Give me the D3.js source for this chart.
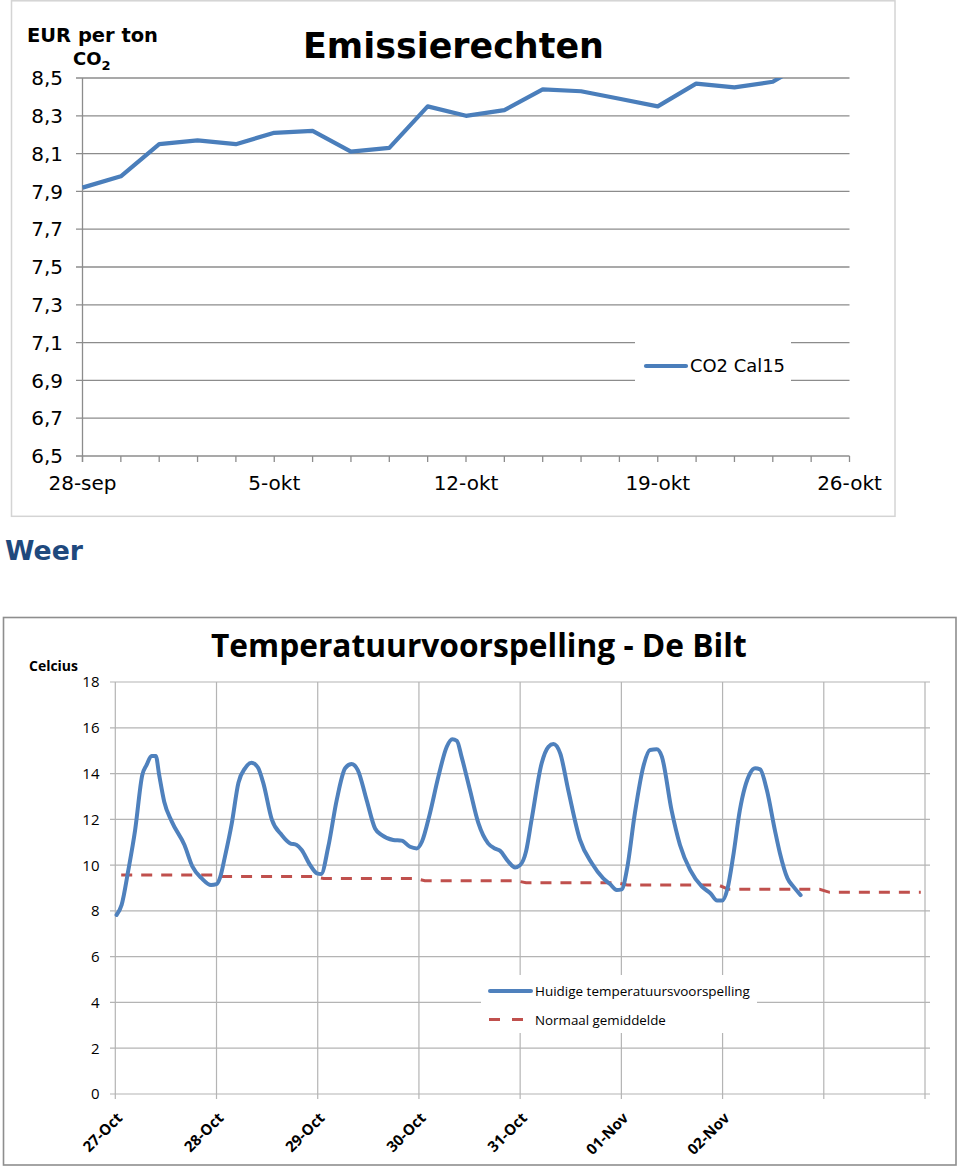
<!DOCTYPE html>
<html><head><meta charset="utf-8">
<script src="https://cdn.jsdelivr.net/npm/d3@7"></script>
<style>body{margin:0;background:#fff}svg{display:block}</style>
</head><body>
<svg id="c" width="960" height="1167"></svg>
<script>
// ---------- Data: Emissierechten ----------
const co2Series = "CO2 Cal15";
const co2Values = [7.92,7.98,8.15,8.17,8.15,8.21,8.22,8.11,8.13,8.35,8.30,8.33,8.44,8.43,8.39,8.35,8.47,8.45,8.48,8.60];
const co2TickLabels = ["28-sep","","","","","5-okt","","","","","12-okt","","","","","19-okt","","","","","26-okt"];
const co2YTicks = [6.5,6.7,6.9,7.1,7.3,7.5,7.7,7.9,8.1,8.3,8.5];

// ---------- Data: Temperatuur ----------
const tempHours = [0.3,1.5,3.1,4.7,6.4,7.4,8.6,9.6,10.4,11.6,13.4,16.4,18.3,20.5,22.7,24,24.8,26,27.6,29.2,30.8,32.3,33.8,35.1,37.1,39.5,41.4,43,44.2,46.2,47.8,48.8,50.5,52.5,54.5,56,57.5,59.6,61.6,63.2,65.9,67.9,69.9,71.5,72.7,74.6,76.6,78.6,79.9,81,82.1,84.1,86.1,88.4,90,91.2,93.2,94.8,96,97.4,98.7,101.1,102.7,103.9,105.5,107.4,110.2,113,115.7,117.3,118.9,120.1,121.3,123.2,125.2,126.8,128.4,129.6,131.9,133.9,136.3,139.1,141.1,142.7,143.9,145.2,146.5,148.1,150.5,151.7,152.9,154.5,156.4,157.6,159.4,160.8,162.5];
const tempValues = [7.82,8.26,9.79,11.53,13.94,14.37,14.77,14.77,13.94,12.77,11.9,10.88,9.93,9.42,9.13,9.17,9.43,10.37,11.8,13.6,14.24,14.47,14.27,13.58,12.0,11.31,10.96,10.88,10.66,10.0,9.64,9.61,10.8,12.84,14.23,14.42,14.15,12.84,11.6,11.31,11.1,11.07,10.8,10.73,11.02,12.26,13.86,15.17,15.5,15.43,14.74,13.28,11.83,10.95,10.73,10.63,10.15,9.9,10.0,10.6,11.97,14.45,15.17,15.29,14.88,13.28,11.1,10.08,9.42,9.17,8.91,8.94,9.79,12.26,14.3,15.03,15.06,14.74,12.4,10.88,9.79,9.06,8.77,8.45,8.45,9.0,10.37,12.4,14.0,14.23,14.18,13.28,11.53,10.52,9.42,9.06,8.69];
const normalDaily = [9.57,9.5,9.42,9.32,9.23,9.13,8.94,8.81];
const dayLabels = ["27-Oct","28-Oct","29-Oct","30-Oct","31-Oct","01-Nov","02-Nov","",""];
const tempYTicks = [0,2,4,6,8,10,12,14,16,18];
const tempSeries = ["Huidige temperatuursvoorspelling","Normaal gemiddelde"];

const svg = d3.select("#c");
function fit(sel, w){ const cw = sel.node().getComputedTextLength(); sel.attr("font-size", parseFloat(sel.attr("font-size"))*w/cw); return sel; }

// ================= TOP CHART =================
(function(){
  const V = "'DejaVu Sans', Verdana, sans-serif";
  const g = svg.append("g");
  g.append("rect").attr("x",11.5).attr("y",0.8).attr("width",883.5).attr("height",515.5)
    .attr("fill","#fff").attr("stroke","#d4d4d4").attr("stroke-width",1.5);
  const x = d3.scaleLinear().domain([0,20]).range([82.5,849.5]);
  const y = d3.scaleLinear().domain([6.5,8.5]).range([456,78]);
  g.append("g").selectAll("line").data(co2YTicks).join("line")
    .attr("x1",76).attr("x2",849.5).attr("y1",d=>y(d)).attr("y2",d=>y(d))
    .attr("stroke","#8c8c8c").attr("stroke-width",1.3);
  g.append("line").attr("x1",x(0)).attr("x2",x(0)).attr("y1",y(8.5)).attr("y2",y(6.5)+6)
    .attr("stroke","#8c8c8c").attr("stroke-width",1.3);
  g.append("g").selectAll("line").data(d3.range(21)).join("line")
    .attr("x1",d=>x(d)).attr("x2",d=>x(d)).attr("y1",y(6.5)).attr("y2",y(6.5)+6)
    .attr("stroke","#8c8c8c").attr("stroke-width",1.3);
  g.append("g").selectAll("text").data(co2YTicks).join("text")
    .attr("x",63).attr("y",d=>y(d)).attr("dy","0.36em").attr("text-anchor","end")
    .attr("font-family",V).attr("font-size",20).attr("fill","#000")
    .text(d=>d.toFixed(1).replace(".",","));
  g.append("g").selectAll("text").data(co2TickLabels.map((t,i)=>({t,i})).filter(d=>d.t)).join("text")
    .attr("x",d=>x(d.i)).attr("y",490).attr("text-anchor","middle")
    .attr("font-family",V).attr("font-size",20).attr("fill","#000").text(d=>d.t);
  g.append("clipPath").attr("id","clipTop").append("rect")
    .attr("x",x(0)-3).attr("y",y(8.5)).attr("width",x(20)-x(0)+6).attr("height",y(6.5)-y(8.5));
  g.append("path").datum(co2Values).attr("clip-path","url(#clipTop)")
    .attr("d",d3.line().x((d,i)=>x(i)).y(d=>y(d)))
    .attr("fill","none").attr("stroke","#4a7ebb").attr("stroke-width",4.2).attr("stroke-linejoin","round");
  g.append("rect").attr("x",635).attr("y",335).attr("width",156).attr("height",54).attr("fill","#fff");
  g.append("line").attr("x1",646).attr("x2",686).attr("y1",366).attr("y2",366)
    .attr("stroke","#4a7ebb").attr("stroke-width",4.2).attr("stroke-linecap","round");
  fit(g.append("text").attr("x",690).attr("y",366).attr("dy","0.36em").attr("font-family",V)
    .attr("font-size",18).attr("fill","#000").text(co2Series),95);
  fit(g.append("text").attr("x",303).attr("y",58).attr("font-family",V).attr("font-weight","bold")
    .attr("font-size",36).attr("fill","#000").text("Emissierechten"),301);
  fit(g.append("text").attr("x",27).attr("y",41.5).attr("font-family",V).attr("font-weight","bold")
    .attr("font-size",18).attr("fill","#000").text("EUR per ton"),131);
  const co = g.append("text").attr("x",73).attr("y",65).attr("font-family",V).attr("font-weight","bold")
    .attr("font-size",18).attr("fill","#000");
  co.append("tspan").text("CO");
  co.append("tspan").attr("font-size",13).attr("dy",5).text("2");
  fit(svg.append("text").attr("x",5).attr("y",560).attr("font-family",V).attr("font-weight","bold")
    .attr("font-size",28).attr("fill","#1f497d").text("Weer"),78);
})();

// ================= BOTTOM CHART =================
(function(){
  const F = "'Open Sans', 'Noto Sans', sans-serif";
  const g = svg.append("g");
  g.append("rect").attr("x",3.5).attr("y",617.5).attr("width",952.5).attr("height",547.5)
    .attr("fill","#fff").attr("stroke","#8e8e8e").attr("stroke-width",1.6);
  const x = d3.scaleLinear().domain([0,192]).range([115.3,925]);
  const y = d3.scaleLinear().domain([0,18]).range([1094,682]);
  const gridC = "#b4b4b4";
  g.append("g").selectAll("line").data(tempYTicks).join("line")
    .attr("x1",110).attr("x2",930).attr("y1",d=>y(d)).attr("y2",d=>y(d))
    .attr("stroke",gridC).attr("stroke-width",1.2);
  g.append("g").selectAll("line").data(d3.range(9)).join("line")
    .attr("x1",d=>x(d*24)).attr("x2",d=>x(d*24)).attr("y1",y(18)).attr("y2",y(0)+5)
    .attr("stroke",gridC).attr("stroke-width",1.2);
  g.append("g").selectAll("text").data(tempYTicks).join("text")
    .attr("x",99.5).attr("y",d=>y(d)).attr("dy","0.36em").attr("text-anchor","end")
    .attr("font-family",F).attr("font-size",15).attr("fill","#000").text(d=>d);
  g.append("g").selectAll("text").data(dayLabels.map((t,i)=>({t,i})).filter(d=>d.t)).join("text")
    .attr("transform",d=>`translate(${x(d.i*24)+8},${1119}) rotate(-45)`)
    .attr("text-anchor","end").attr("font-family",F).attr("font-weight","bold")
    .attr("font-size",15).attr("fill","#000").text(d=>d.t);
  const normPts = [];
  normalDaily.forEach((v,d)=>{ normPts.push([d*24+1.4,v]); normPts.push([d*24+23,v]); });
  g.append("path").datum(normPts)
    .attr("d",d3.line().x(d=>x(d[0])).y(d=>y(d[1])))
    .attr("fill","none").attr("stroke","#c0504d").attr("stroke-width",3).attr("stroke-dasharray","11,9");
  const pts = tempHours.map((h,i)=>[h,tempValues[i]]);
  g.append("path").datum(pts)
    .attr("d",d3.line().x(d=>x(d[0])).y(d=>y(d[1])).curve(d3.curveMonotoneX))
    .attr("fill","none").attr("stroke","#4f81bd").attr("stroke-width",4).attr("stroke-linejoin","round").attr("stroke-linecap","round");
  g.append("rect").attr("x",481).attr("y",975).attr("width",276).attr("height",58).attr("fill","#fff");
  g.append("line").attr("x1",490).attr("x2",531).attr("y1",991).attr("y2",991)
    .attr("stroke","#4f81bd").attr("stroke-width",4).attr("stroke-linecap","round");
  g.append("line").attr("x1",489).attr("x2",523).attr("y1",1019.5).attr("y2",1019.5)
    .attr("stroke","#c0504d").attr("stroke-width",3).attr("stroke-dasharray","11,12");
  fit(g.append("text").attr("x",535).attr("y",996).attr("font-family",F).attr("font-size",14)
    .attr("fill","#000").text(tempSeries[0]),215);
  fit(g.append("text").attr("x",535).attr("y",1024.5).attr("font-family",F).attr("font-size",14)
    .attr("fill","#000").text(tempSeries[1]),131);
  fit(g.append("text").attr("x",211).attr("y",657).attr("font-family",F).attr("font-weight","bold")
    .attr("font-size",28).attr("fill","#000").text("Temperatuurvoorspelling - De Bilt"),536);
  fit(g.append("text").attr("x",29).attr("y",671).attr("font-family",F).attr("font-weight","bold")
    .attr("font-size",14).attr("fill","#000").text("Celcius"),49);
})();
</script>
</body></html>
